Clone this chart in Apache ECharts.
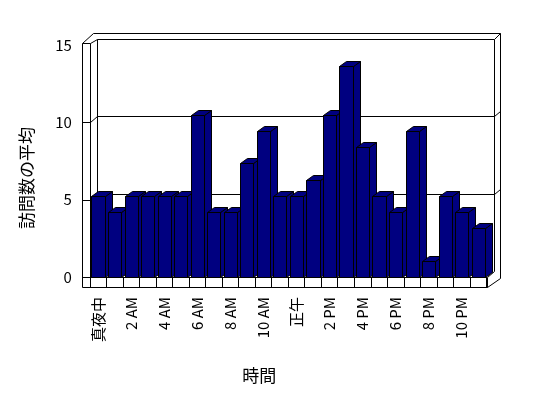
<!DOCTYPE html>
<html>
<head>
<meta charset="utf-8">
<script src="https://cdn.jsdelivr.net/npm/echarts@6/dist/echarts.min.js"></script>
<style>
html, body { margin: 0; padding: 0; background: #fff; }
#chart { width: 548px; height: 398px; }
</style>
</head>
<body>
<div id="chart"></div>
<script>
////////////////////
// data
////////////////////
var hours = ['真夜中', '1 AM', '2 AM', '3 AM', '4 AM', '5 AM', '6 AM', '7 AM', '8 AM', '9 AM', '10 AM', '11 AM',
             '正午', '1 PM', '2 PM', '3 PM', '4 PM', '5 PM', '6 PM', '7 PM', '8 PM', '9 PM', '10 PM', '11 PM'];
var avgVisits = [5, 4, 5, 5, 5, 5, 10, 4, 4, 7, 9, 5, 5, 6, 10, 13, 8, 5, 4, 9, 1, 5, 4, 3];
var yTicks = [0, 5, 10, 15];

var FONT = '"Noto Sans CJK JP", "Noto Sans", sans-serif';
var NAVY = '#000080';
var barAxisMax = 14.28;   // bar plane is a bit taller than the front wall scale

function px(v){
    return Math.round(v) + 0.5;
}

////////////////////
// 3d column
////////////////////
function renderBar(params, api){
    var i = api.value(0);
    var top = api.coord([i, api.value(1)]);
    var base = api.coord([i, 0]);
    var w = api.size([1, 0])[0] * 0.8;
    var x1 = px(top[0] - w / 2), x2 = px(top[0] + w / 2);
    var yt = px(top[1]), yb = px(base[1]);
    var dx = 7, dy = 5;
    var st = { fill: NAVY, stroke: '#000', lineWidth: 1 };
    return {
        type: 'group',
        children: [
            { type: 'polygon', shape: { points: [[x2, yt], [x2 + dx, yt - dy], [x2 + dx, yb - dy], [x2, yb]] }, style: st },
            { type: 'polygon', shape: { points: [[x1, yt], [x1 + dx, yt - dy], [x2 + dx, yt - dy], [x2, yt]] }, style: st },
            { type: 'rect', shape: { x: x1, y: yt, width: x2 - x1, height: yb - yt }, style: st }
        ]
    };
}

////////////////////
// walls / floor / gridlines
////////////////////
function renderFrame(params, api){
    var band = api.size([1, 0])[0];
    var xL = px(api.coord([0, 0])[0] - band / 2);
    var xR = px(api.coord([hours.length - 1, 0])[0] + band / 2);
    var y0 = px(api.coord([0, 0])[1]);
    var yTop = px(api.coord([0, yTicks[yTicks.length - 1]])[1]);
    var wall = 8;      // left wall thickness
    var bx = 7, by = 6; // back wall offset
    var fx = xL - wall;
    var lines = [
        // left wall front face
        [fx, yTop - 2, fx, y0 + 10],
        [xL, yTop - 2, xL, y0],
        [fx, yTop - 2, xL, yTop - 2],
        [fx, yTop - 2, xL + 3, yTop - 12],
        [xL, yTop - 2, xL + bx, yTop - by],
        // back wall
        [xL + bx, yTop - by, xL + bx, y0 - by],
        [xL + bx, yTop - by, xR + bx, yTop - by],
        [xR + bx, yTop - by, xR + bx, y0 - by],
        [xL + 3, yTop - 12, xR + 13, yTop - 12],
        [xR + 13, yTop - 12, xR + 13, y0 + 1],
        [xR + bx, yTop - by, xR + 13, yTop - 12],
        // floor
        [fx, y0 + 10, xR, y0 + 10],
        [xR, y0, xR, y0 + 10],
        [xR, y0 + 10, xR + 13, y0 + 1],
        [xR, y0, xR + bx, y0 - by],
        [fx, y0, xL, y0]
    ];
    for (var k = 1; k < yTicks.length - 1; k++){
        var yF = px(api.coord([0, yTicks[k]])[1]);
        lines.push([fx, yF, xL, yF]);
        lines.push([xL, yF, xL + bx, yF - by]);
        lines.push([xL + bx, yF - by, xR + bx, yF - by]);
        lines.push([xR + bx, yF - by, xR + 13, yF - by - 5]);
    }
    var children = lines.map(function(l){
        return {
            type: 'line',
            shape: { x1: l[0], y1: l[1], x2: l[2], y2: l[3] },
            style: { stroke: '#000', lineWidth: 1 }
        };
    });
    return { type: 'group', children: children };
}

var mychart = echarts.init(document.getElementById('chart'), null, { renderer: 'canvas' });
var chart_option = {
    animation: false,
    backgroundColor: '#fff',
    textStyle: { fontFamily: FONT },
    grid: { left: 89.8, right: 61.5, top: 45, bottom: 121 },
    xAxis: {
        type: 'category',
        data: hours,
        boundaryGap: true,
        name: '時間',
        nameLocation: 'middle',
        nameGap: 90,
        nameTextStyle: { fontFamily: FONT, fontSize: 17, color: '#000', padding: [0, 58, 0, 0] },
        axisLine: { show: true, lineStyle: { color: '#000', width: 1 } },
        axisTick: { show: true, interval: 0, length: 10, lineStyle: { color: '#000' } },
        axisLabel: { interval: 1, rotate: 90, margin: 20, fontFamily: FONT, fontSize: 15, color: '#000' },
        splitLine: { show: false }
    },
    yAxis: [
        {
            type: 'value',
            min: 0,
            max: 15,
            interval: 5,
            name: '訪問数の平均',
            nameLocation: 'middle',
            nameGap: 55,
            nameTextStyle: { fontFamily: FONT, fontSize: 17, color: '#000', padding: [0, 34, 0, 0] },
            axisLine: { show: false },
            axisTick: { show: false },
            splitLine: { show: false },
            axisLabel: { margin: 18, fontFamily: FONT, fontSize: 15, color: '#000' }
        },
        {
            type: 'value',
            min: 0,
            max: barAxisMax,
            show: false,
            splitLine: { show: false }
        }
    ],
    series: [
        {
            name: 'frame',
            type: 'custom',
            yAxisIndex: 0,
            z: 1,
            silent: true,
            renderItem: renderFrame,
            data: [[0, 0]]
        },
        {
            name: '訪問数の平均',
            type: 'custom',
            yAxisIndex: 1,
            z: 2,
            renderItem: renderBar,
            encode: { x: 0, y: 1 },
            data: avgVisits.map(function(v, i){ return [i, v]; })
        }
    ]
};
mychart.setOption(chart_option);
</script>
</body>
</html>
